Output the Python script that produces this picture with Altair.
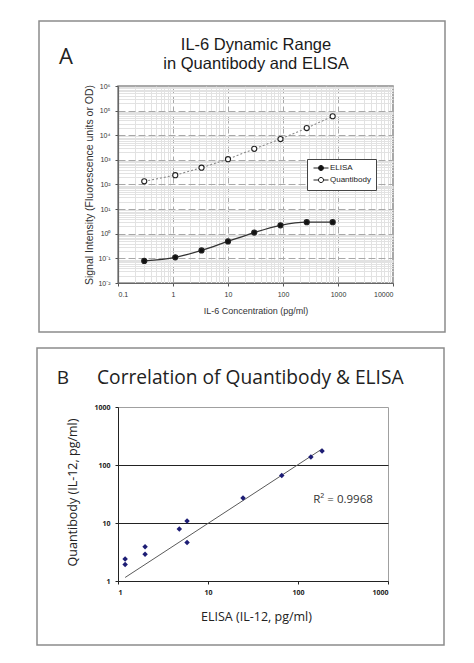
import altair as alt
import pandas as pd

# ---------------- Panel A data ----------------
conc_a = [0.3, 1.1, 3.3, 10, 30, 90, 270, 800]
elisa_signal = [0.079, 0.11, 0.21, 0.49, 1.12, 2.2, 2.95, 2.95]
quanti_signal = [134, 240, 480, 1070, 2800, 7000, 19600, 59000]
series_names = ["ELISA", "Quantibody"]
x_decades_a = [0.1, 1, 10, 100, 1000, 10000]
y_decades_a = [0.01, 0.1, 1, 10, 100, 1000, 10000, 100000, 1000000]
y_sup = ["\u207b\u00b2", "\u207b\u00b9", "\u2070", "\u00b9", "\u00b2", "\u00b3", "\u2074", "\u2075", "\u2076"]

# ---------------- Panel B data ----------------
elisa_b = [1.2, 1.2, 2.0, 2.0, 4.8, 5.85, 5.85, 24.5, 66, 139, 185]
quanti_b = [2.4, 1.93, 3.9, 2.9, 7.9, 10.8, 4.6, 27, 66, 138, 174]
trend_x = [1.2, 185]
trend_y = [1.15, 189]
b_ticks = [1, 10, 100, 1000]
r2_label = "R\u00b2 = 0.9968"

df_a = pd.DataFrame({
    "conc": conc_a + conc_a,
    "signal": elisa_signal + quanti_signal,
    "series": [series_names[0]] * len(conc_a) + [series_names[1]] * len(conc_a),
})
df_b = pd.DataFrame({"elisa": elisa_b, "quanti": quanti_b})
df_trend = pd.DataFrame({"elisa": trend_x, "quanti": trend_y})
one = pd.DataFrame({"k": [0]})

minor_x = [m * d for d in x_decades_a[:-1] for m in range(1, 10)] + [x_decades_a[-1]]
minor_y = [m * d for d in y_decades_a[:-1] for m in range(1, 10)] + [y_decades_a[-1]]

DEC = "abs(log(datum.value)/LN10 - round(log(datum.value)/LN10)) < 0.001"

FA = "Liberation Sans"
FB = "Open Sans"

WA, HA = 275, 197
WB, HB = 270, 174

sup_js = "[" + ",".join("'" + s + "'" for s in y_sup) + "]"

x_axis_a = alt.Axis(
    values=minor_x, format="~g",
    labelExpr=f"{DEC} ? datum.label : ''",
    labelFont=FA, labelFontSize=7, labelColor="#333", labelPadding=4,
    tickSize=3, tickColor="#555", tickOpacity={"condition": {"test": DEC, "value": 1}, "value": 0},
    grid=True,
    gridColor={"condition": {"test": DEC, "value": "#a8a8a8"}, "value": "#e2e2e2"},
    gridDash={"condition": {"test": DEC, "value": [7, 3]}, "value": []},
    gridWidth=1,
    domainColor="#666", domainWidth=1.2,
    title="IL-6 Concentration (pg/ml)", titleFont=FA, titleFontSize=9, titleFontWeight="normal",
    titleColor="#333", titleX=WA / 2, titleY=27, titleBaseline="middle", titleAlign="center",
)
y_axis_a = alt.Axis(
    values=minor_y,
    labelExpr=f"{DEC} ? '10' + {sup_js}[round(log(datum.value)/LN10)+2] : ''",
    labelFont=FA, labelFontSize=7, labelColor="#333", labelPadding=5,
    tickSize=3, tickColor="#555", tickOpacity={"condition": {"test": DEC, "value": 1}, "value": 0},
    grid=True,
    gridColor={"condition": {"test": DEC, "value": "#a8a8a8"}, "value": "#e2e2e2"},
    gridDash={"condition": {"test": DEC, "value": [7, 3]}, "value": []},
    gridWidth=1,
    domainColor="#666", domainWidth=1.2,
    title="Signal Intensity (Fluorescence units or OD)", titleFont=FA, titleFontSize=10.5,
    titleFontWeight="normal", titleColor="#333", titleX=-29, titleY=HA / 2, titleAngle=270,
    titleAlign="center", titleBaseline="middle",
)

xa = alt.X("conc:Q", scale=alt.Scale(type="log", domain=[0.1, 10000], nice=False), axis=x_axis_a)
ya = alt.Y("signal:Q", scale=alt.Scale(type="log", domain=[0.01, 1000000], nice=False), axis=y_axis_a)

base_a = alt.Chart(df_a).encode(x=xa, y=ya)

line_elisa = base_a.transform_filter(alt.datum.series == series_names[0]).mark_line(
    interpolate="monotone", strokeWidth=1.3, color="#333333")
line_quanti = base_a.transform_filter(alt.datum.series == series_names[1]).mark_line(
    interpolate="linear", strokeWidth=1.1, color="#8a8a8a", strokeDash=[2, 2])

SYM = ("M-2.5,0H-0.85M0.85,0H2.5M0.85,0A0.85,0.85,0,1,1,-0.85,0A0.85,0.85,0,1,1,0.85,0Z")

points_a = base_a.mark_point(shape="circle", filled=True, stroke="#222", strokeWidth=1.1, size=26, opacity=1).encode(
    fill=alt.Fill(
        "series:N",
        scale=alt.Scale(domain=series_names, range=["#111111", "#ffffff"]),
        legend=alt.Legend(
            title=None, orient="none", legendX=189, legendY=73,
            strokeColor="#444", fillColor="white", padding=5,
            symbolType=SYM, symbolSize=36, symbolStrokeColor="#222", symbolStrokeWidth=1,
            symbolOffset=5, labelOffset=5, rowPadding=2,
            labelFont=FA, labelFontSize=8, labelColor="#222",
        ),
    ),
)

box_a = alt.Chart(one).mark_rect(fillOpacity=0, stroke="#8c8c8c", strokeWidth=1.5).encode(
    x=alt.value(-79), x2=alt.value(327), y=alt.value(-65), y2=alt.value(246)
)
letter_a = alt.Chart(one).mark_text(text="A", font=FB, fontSize=22, align="center", baseline="middle", color="#222").encode(
    x=alt.value(-52), y=alt.value(-29)
)
title_a1 = alt.Chart(one).mark_text(text="IL-6 Dynamic Range", font=FA, fontSize=16.5, align="center", baseline="middle", color="#1a1a1a").encode(
    x=alt.value(138), y=alt.value(-41)
)
title_a2 = alt.Chart(one).mark_text(text="in Quantibody and ELISA", font=FA, fontSize=16.5, align="center", baseline="middle", color="#1a1a1a").encode(
    x=alt.value(138), y=alt.value(-22)
)

chart_a = alt.layer(box_a, letter_a, title_a1, title_a2, line_elisa, line_quanti, points_a).properties(
    width=WA, height=HA, view=alt.ViewBackground(stroke="#8c8c8c", strokeWidth=1.5, fill="white")
)

# ---------------- Panel B ----------------
x_axis_b = alt.Axis(
    values=b_ticks, format="~g", labelFont=FB, labelFontWeight="bold", labelFontSize=7, labelColor="#222",
    labelPadding=4, tickSize=3, tickColor="#222", grid=False, domainColor="#222", domainWidth=1,
    title="ELISA (IL-12, pg/ml)", titleFont=FB, titleFontSize=12.5, titleFontWeight="normal", titleColor="#222",
    titleX=WB / 2 + 3, titleY=35, titleAlign="center", titleBaseline="middle",
)
y_axis_b = alt.Axis(
    values=b_ticks, format="~g", labelFont=FB, labelFontWeight="bold", labelFontSize=7, labelColor="#222",
    labelPadding=5, tickSize=3, tickColor="#222", grid=True, gridColor="#222", gridWidth=1,
    gridOpacity={"condition": {"test": "datum.value == 10 || datum.value == 100", "value": 1}, "value": 0},
    domainColor="#222", domainWidth=1,
    title="Quantibody (IL-12, pg/ml)", titleFont=FB, titleFontSize=12.5, titleFontWeight="normal", titleColor="#222",
    titleX=-46, titleY=HB / 2 - 2, titleAngle=270, titleAlign="center", titleBaseline="middle",
)
xb = alt.X("elisa:Q", scale=alt.Scale(type="log", domain=[1, 1000], nice=False), axis=x_axis_b)
yb = alt.Y("quanti:Q", scale=alt.Scale(type="log", domain=[1, 1000], nice=False), axis=y_axis_b)

trend_b = alt.Chart(df_trend).mark_line(color="#5a5a5a", strokeWidth=1).encode(x=xb, y=yb)
points_b = alt.Chart(df_b).mark_point(shape="diamond", filled=True, color="#1d1d75", size=30, opacity=1).encode(x=xb, y=yb)

box_b = alt.Chart(one).mark_rect(fillOpacity=0, stroke="#8c8c8c", strokeWidth=1.5).encode(
    x=alt.value(-81), x2=alt.value(326), y=alt.value(-59), y2=alt.value(238)
)
letter_b = alt.Chart(one).mark_text(text="B", font=FB, fontSize=19, align="center", baseline="middle", color="#222").encode(
    x=alt.value(-55), y=alt.value(-29)
)
title_b = alt.Chart(one).mark_text(text="Correlation of Quantibody & ELISA", font=FB, fontSize=19.2, align="left", baseline="middle", color="#222").encode(
    x=alt.value(-21), y=alt.value(-29)
)
r2_b = alt.Chart(one).mark_text(text=r2_label, font=FB, fontSize=11.5, align="center", baseline="middle", color="#333").encode(
    x=alt.value(225), y=alt.value(93)
)

chart_b = alt.layer(box_b, letter_b, title_b, r2_b, trend_b, points_b).properties(
    width=WB, height=HB, view=alt.ViewBackground(stroke="#a0a0a0", strokeWidth=1, fill="white")
)

chart = alt.vconcat(chart_a, chart_b, spacing=12).properties(
    padding={"left": 27, "top": 11, "right": 0, "bottom": 0}, background="white"
).resolve_scale(x="independent", y="independent")

chart.save("out.html", embed_options={"renderer": "svg", "actions": False})
